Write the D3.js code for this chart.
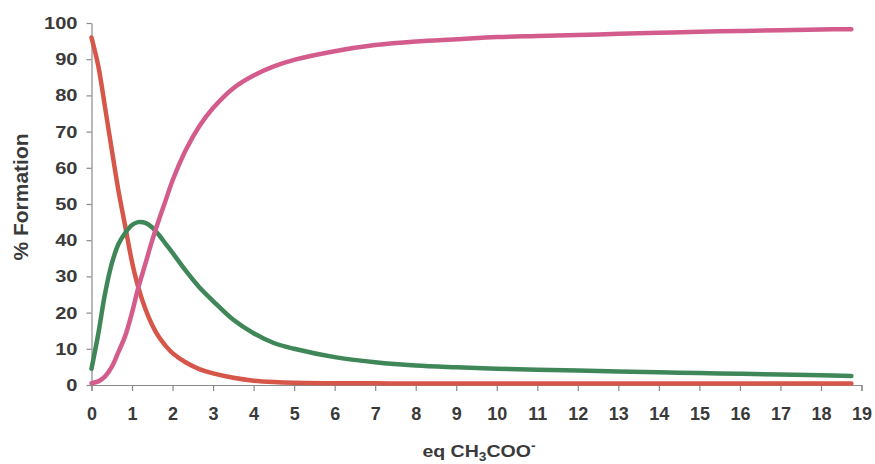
<!DOCTYPE html>
<html>
<head>
<meta charset="utf-8">
<script src="https://cdn.jsdelivr.net/npm/d3@7"></script>
<style>
  html, body { margin: 0; padding: 0; background: #ffffff; }
  svg { display: block; }
  text { font-family: "Liberation Sans", Arial, sans-serif; font-weight: bold; fill: #3a3a3a; }
</style>
</head>
<body>
<svg id="chart" width="875" height="464"></svg>
<script>
// Equivalents of acetate added
const eq = [0, 0.17, 0.33, 0.5, 0.66, 0.83, 1.0, 1.15, 1.33, 1.5, 1.66, 1.83, 2.0, 2.33, 2.66, 3.0, 3.5,
            4.0, 4.5, 5, 6, 7, 8, 9, 10, 11, 12, 13, 14, 15, 16, 17, 18, 18.75];

// % formation of each species
const speciesRed = [96, 88, 77, 65, 54, 44, 34, 27.2, 21, 16.5, 13.3, 10.8, 8.8, 6.2, 4.4, 3.2, 2.0,
                    1.2, 0.8, 0.6, 0.5, 0.45, 0.4, 0.4, 0.4, 0.4, 0.4, 0.4, 0.4, 0.4, 0.4, 0.4, 0.4, 0.4];
const speciesGreen = [4.5, 14.3, 25, 33.5, 38.8, 42, 44.2, 45, 44.8, 43.5, 41.5, 39, 36.5, 31.5, 27, 23.2, 18,
                      14.3, 11.6, 10, 7.7, 6.3, 5.4, 4.9, 4.5, 4.2, 4.0, 3.7, 3.5, 3.3, 3.1, 2.9, 2.7, 2.5];
const speciesPink = [0.5, 1, 2.3, 5, 9, 13.5, 20, 26.7, 33.5, 40, 45.5, 51, 56.5, 65, 71.5, 76.5, 82,
                     85.5, 88, 89.8, 92.2, 93.9, 94.9, 95.5, 96.1, 96.4, 96.7, 97, 97.3, 97.6, 97.8, 98, 98.2, 98.3];

const xTicks = d3.range(0, 20, 1);
const yTicks = d3.range(0, 101, 10);

const svg = d3.select("#chart");
const x = d3.scaleLinear().domain([0, 19]).range([91.5, 861.5]);
const y = d3.scaleLinear().domain([0, 100]).range([385, 23]);

const axisColor = "#8a8a8a";
const labelColor = "#3a3a3a";

// Y axis
const yAxis = svg.append("g")
  .attr("transform", `translate(${x(0)},0)`)
  .call(d3.axisLeft(y).tickValues(yTicks).tickSize(5).tickSizeOuter(0).tickPadding(13));
yAxis.select(".domain").attr("stroke", axisColor).attr("stroke-width", 1.2);
yAxis.selectAll(".tick line").attr("stroke", axisColor).attr("stroke-width", 1.2);
// the value labels are a little wide, so stretch them horizontally from their right edge
yAxis.selectAll(".tick text")
  .attr("font-size", 17).attr("font-family", "Liberation Sans, Arial, sans-serif")
  .attr("font-weight", "bold").attr("fill", labelColor)
  .attr("x", -14 / 1.18)
  .attr("transform", "scale(1.18,1)");

// X axis
const xAxis = svg.append("g")
  .attr("transform", `translate(0,${y(0)})`)
  .call(d3.axisBottom(x).tickValues(xTicks).tickSize(6).tickSizeOuter(6).tickPadding(16));
xAxis.select(".domain").attr("stroke", axisColor).attr("stroke-width", 1.2);
xAxis.selectAll(".tick line").attr("stroke", axisColor).attr("stroke-width", 1.2);
xAxis.selectAll(".tick text")
  .attr("font-size", 18).attr("font-family", "Liberation Sans, Arial, sans-serif")
  .attr("font-weight", "bold").attr("fill", labelColor);

// Curves
const line = d3.line()
  .x((d, i) => x(eq[i]))
  .y(d => y(d))
  .curve(d3.curveCatmullRom.alpha(0.5));

const series = [
  { values: speciesRed, color: "#d6574a" },
  { values: speciesGreen, color: "#3f8758" },
  { values: speciesPink, color: "#d35c8c" }
];

svg.append("g").selectAll("path")
  .data(series)
  .join("path")
  .attr("d", s => line(s.values))
  .attr("fill", "none")
  .attr("stroke", s => s.color)
  .attr("stroke-width", 4.5)
  .attr("stroke-linecap", "round")
  .attr("stroke-linejoin", "round");

// Axis titles
svg.append("text")
  .attr("transform", `translate(28,197) rotate(-90)`)
  .attr("text-anchor", "middle")
  .attr("font-size", 21)
  .text("% Formation");

const xt = svg.append("text")
  .attr("transform", "translate(479,457) scale(1.15,1)")
  .attr("text-anchor", "middle")
  .attr("font-size", 17);
xt.append("tspan").text("eq CH");
xt.append("tspan").attr("font-size", 12).attr("dy", 4).text("3");
xt.append("tspan").attr("dy", -4).text("COO");
xt.append("tspan").attr("font-size", 12).attr("dy", -7).text("-");
</script>
</body>
</html>
